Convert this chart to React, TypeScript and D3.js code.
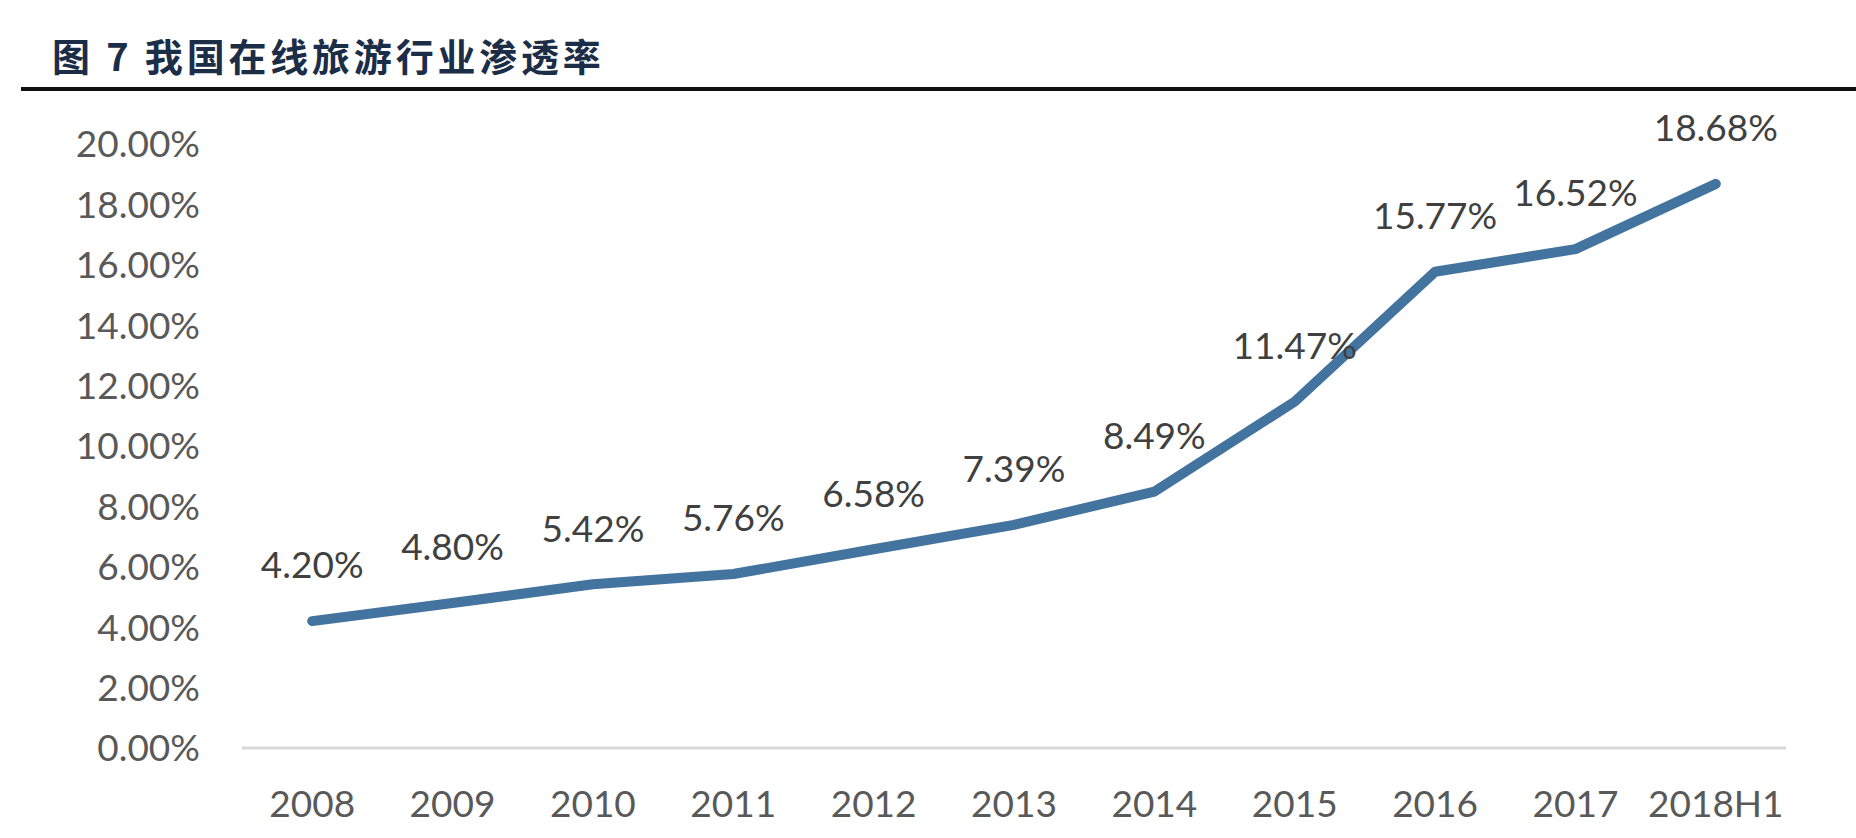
import React from "react";
import * as d3 from "d3";

const categories: string[] = ["2008", "2009", "2010", "2011", "2012", "2013", "2014", "2015", "2016", "2017", "2018H1"];
const penetration: number[] = [4.2, 4.8, 5.42, 5.76, 6.58, 7.39, 8.49, 11.47, 15.77, 16.52, 18.68];
const yTicks: number[] = [0, 2, 4, 6, 8, 10, 12, 14, 16, 18, 20];
const titleText = "图 7 我国在线旅游行业渗透率";

const W = 1856;
const H = 838;
const FONT = "Lato, 'Open Sans', 'DejaVu Sans', sans-serif";
const FS = 37;

export default function App() {
  const x = d3.scalePoint<string>().domain(categories).range([242, 1786]).padding(0.5);
  const y = d3.scaleLinear().domain([0, 20]).range([748, 144]);
  const line = d3
    .line<number>()
    .x((_, i) => x(categories[i]) as number)
    .y((d) => y(d));
  const fmt = (v: number) => v.toFixed(2) + "%";

  return (
    <svg
      width={W}
      height={H}
      viewBox={`0 0 ${W} ${H}`}
      style={{ position: "absolute", left: 0, top: 0, background: "#fff" }}
    >
      <rect x={0} y={0} width={W} height={H} fill="#fff" />
      <text
        x={52}
        y={71}
        fontFamily="'Noto Sans CJK SC', sans-serif"
        fontWeight={700}
        fontSize={38}
        letterSpacing={3.8}
        fill="#1c2d48"
      >
        {titleText}
      </text>
      <line x1={21} x2={W} y1={89} y2={89} stroke="#111" strokeWidth={4} />

      {yTicks.map((t) => (
        <text
          key={t}
          x={200}
          y={y(t) + FS * 0.36}
          textAnchor="end"
          fontFamily={FONT}
          fontSize={FS}
          fill="#595959"
        >
          {t.toFixed(2) + "%"}
        </text>
      ))}

      <line x1={242} x2={1786} y1={y(0)} y2={y(0)} stroke="#d9d9d9" strokeWidth={3} />

      {categories.map((c) => (
        <text
          key={c}
          x={x(c)}
          y={804 + FS * 0.36}
          textAnchor="middle"
          fontFamily={FONT}
          fontSize={FS}
          fill="#595959"
        >
          {c}
        </text>
      ))}

      <path
        d={line(penetration) || ""}
        fill="none"
        stroke="#43739f"
        strokeWidth={10}
        strokeLinecap="round"
        strokeLinejoin="round"
      />

      {penetration.map((v, i) => (
        <text
          key={i}
          x={x(categories[i])}
          y={y(v) - 56 + FS * 0.36}
          textAnchor="middle"
          fontFamily={FONT}
          fontSize={FS}
          fill="#404040"
        >
          {fmt(v)}
        </text>
      ))}
    </svg>
  );
}
